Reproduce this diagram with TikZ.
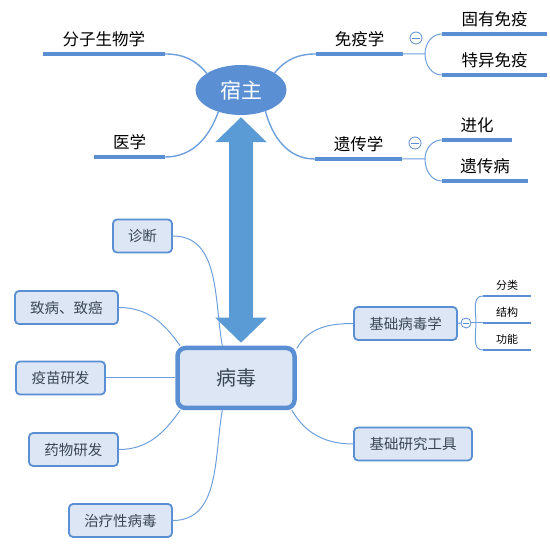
\documentclass[tikz,border=0pt]{standalone}
\usepackage{fontspec}
\usepackage{xcolor}
\usepackage{tikz}
\usetikzlibrary{arrows.meta,shapes.geometric}
\newfontfamily\cjk{Noto Sans CJK SC}
\definecolor{mainblue}{HTML}{5B8FD4}
\definecolor{arrowblue}{HTML}{5B9BD5}
\definecolor{linkblue}{HTML}{6E9FDD}
\definecolor{boxfill}{HTML}{DCE6F4}
\definecolor{boxtext}{HTML}{3B4656}

\begin{document}
\begin{tikzpicture}[x=1pt,y=1pt,
    topic/.style={font=\cjk\fontsize{16.5}{18}\selectfont, anchor=south, inner xsep=0pt,
      inner ysep=8.5pt, text height=12pt, text depth=0pt},
    subtopic/.style={font=\cjk\fontsize{11}{12}\selectfont, anchor=south, inner xsep=0pt,
      inner ysep=6.5pt, text height=8pt, text depth=0pt},
    uline/.style={draw=mainblue, line width=3.5pt},
    sline/.style={draw=mainblue, line width=2.5pt},
    hlink/.style={draw=linkblue, line width=1.4pt},
    link/.style={draw=linkblue, line width=1pt},
    leaf/.style={draw=mainblue, fill=boxfill, line width=1.8pt, rounded corners=4pt,
      font=\cjk\fontsize{14.5}{16}\selectfont, text=boxtext, inner sep=0pt, minimum height=33pt},
    fold/.style={circle, draw=mainblue, fill=white, line width=0.8pt, inner sep=0pt,
      minimum size=#1,
      path picture={\draw[mainblue, line width=0.9pt]
        ([xshift=-0.3*#1]path picture bounding box.center) --
        ([xshift=0.3*#1]path picture bounding box.center);}}]
  \useasboundingbox (0,0) rectangle (550,546);

  % host side
  \node[ellipse, fill=mainblue, minimum width=91pt, minimum height=50pt, inner sep=0pt,
    text=white, font=\cjk\fontsize{21}{24}\selectfont] (host) at (241,456) {宿主};
  \node[topic, minimum width=122pt] (fzsw) at (104,492) {分子生物学};
  \node[topic, minimum width=71pt] (yx) at (129.5,389) {医学};
  \node[topic, minimum width=87pt] (myx) at (359.5,492) {免疫学};
  \node[topic, minimum width=87pt] (ycx) at (358.5,387) {遗传学};
  \node[topic, minimum width=105pt] (gymy) at (494.5,512) {固有免疫};
  \node[topic, minimum width=105pt] (tymy) at (494.5,471) {特异免疫};
  \node[topic, minimum width=70pt] (jh) at (477,406) {进化};
  \node[topic, minimum width=86pt] (ycb) at (485,365) {遗传病};
  \foreach \n in {fzsw,yx,myx,ycx,gymy,tymy,jh,ycb}
    \draw[uline] (\n.south west) -- (\n.south east);

  \node[fold=12pt] (f1) at (416,508) {};
  \node[fold=12pt] (f2) at (415,403) {};
  \coordinate (mj) at (425,492);
  \coordinate (yj) at (425,387);

  \draw[hlink] (fzsw.south east) to[out=0,in=130] (host.154);
  \draw[hlink] (yx.south east) to[out=0,in=250] (host.224);
  \draw[hlink] (host.27) to[out=50,in=180] (myx.south west);
  \draw[hlink] (host.-41) to[out=-75,in=180] (ycx.south west);
  \draw[link] (myx.south east) -- (mj) to[out=90,in=180] (gymy.south west);
  \draw[link] (mj) to[out=-90,in=180] (tymy.south west);
  \draw[link] (ycx.south east) -- (yj) to[out=90,in=180] (jh.south west);
  \draw[link] (yj) to[out=-90,in=180] (ycb.south west);

  % virus side
  \node[draw=mainblue, fill=boxfill, line width=4.5pt, rounded corners=8pt, minimum width=117pt,
    minimum height=60pt, font=\cjk\fontsize{20}{22}\selectfont, text=boxtext] (virus)
    at (236,168) {病毒};
  \draw[arrowblue, line width=24pt, {Triangle[width=50pt,length=25pt]}-{Triangle[width=50pt,length=25pt]},
    shorten <=2pt, shorten >=3pt] (host.south) -- (host.south |- virus.north);

  \node[leaf, minimum width=59pt] (zd) at (142.5,310) {诊断};
  \node[leaf, minimum width=103pt] (zb) at (66.5,238.5) {致病、致癌};
  \node[leaf, minimum width=89pt] (ym) at (60.5,168) {疫苗研发};
  \node[leaf, minimum width=89pt] (yw) at (73.5,96.5) {药物研发};
  \node[leaf, minimum width=103pt] (zl) at (120.5,25.5) {治疗性病毒};
  \node[leaf, minimum width=103pt] (jcbd) at (405.5,222.5) {基础病毒学};
  \node[leaf, minimum width=118pt] (jcgj) at (413,102) {基础研究工具};

  \draw[link] (zd.east) to[out=0,in=100] (virus.113);
  \draw[link] (zb.east) to[out=0,in=125] (virus.150);
  \draw[link] (ym.east) -- (virus.west);
  \draw[link] (yw.east) to[out=0,in=235] (virus.210);
  \draw[link] (zl.east) to[out=0,in=260] (virus.-113);
  \draw[link] (virus.26) to[out=60,in=180] (jcbd.west);
  \draw[link] (virus.-30) to[out=-60,in=180] (jcgj.west);

  \node[fold=10pt] (f3) at (466,223) {};
  \node[subtopic, minimum width=48pt] (fl) at (507,250) {分类};
  \node[subtopic, minimum width=48pt] (jg) at (507,223) {结构};
  \node[subtopic, minimum width=48pt] (gn) at (507,196) {功能};
  \foreach \n in {fl,jg,gn}
    \draw[sline] (\n.south west) -- (\n.south east);
  \coordinate (bj) at (476,223);
  \draw[link] (jcbd.east) -- (f3.west);
  \draw[link] (f3.east) -- (jg.south west);
  \draw[link] (bj) to[out=90,in=180] (fl.south west);
  \draw[link] (bj) to[out=-90,in=180] (gn.south west);
\end{tikzpicture}
\end{document}
